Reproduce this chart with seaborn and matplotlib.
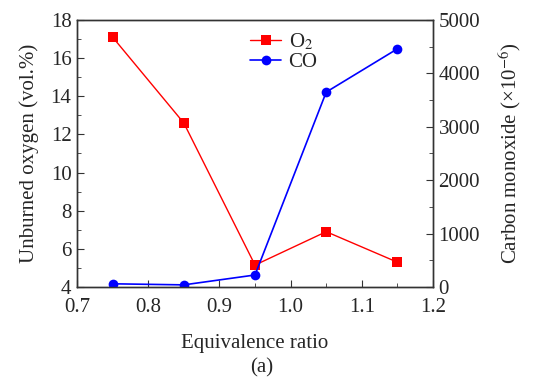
import matplotlib
matplotlib.use("Agg")
import matplotlib.pyplot as plt
import seaborn as sns
import pandas as pd
from matplotlib.ticker import MultipleLocator

ratio = [0.75, 0.85, 0.95, 1.05, 1.15]
o2 = [17.1, 12.6, 5.15, 6.9, 5.3]
co = [60, 40, 225, 3650, 4460]

df = pd.DataFrame({"ratio": ratio, "o2": o2, "co": co})

sns.set_style("ticks")
plt.rcParams['font.family'] = ['Liberation Serif', 'DejaVu Serif']
plt.rcParams['mathtext.fontset'] = 'stix'

FS = 15
fig = plt.figure(figsize=(5.4, 3.88), dpi=100)
ax = fig.add_axes([0.1426, 0.2603, 0.6593, 0.6882])
ax2 = ax.twinx()

sns.lineplot(data=df, x="ratio", y="o2", ax=ax, color="#ff0000", marker="s",
             markersize=6.5, markeredgewidth=0, linewidth=1.0, label="O$_2$", legend=False)
sns.lineplot(data=df, x="ratio", y="co", ax=ax2, color="#0000ff", marker="o",
             markersize=7, markeredgewidth=0, linewidth=1.2, label="CO", legend=False)

ax.set_xlim(0.7, 1.2)
ax.set_ylim(4, 18)
ax2.set_ylim(0, 5000)
ax.xaxis.set_major_locator(MultipleLocator(0.1))
ax.xaxis.set_minor_locator(MultipleLocator(0.05))
ax.yaxis.set_major_locator(MultipleLocator(2))
ax.yaxis.set_minor_locator(MultipleLocator(1))
ax2.yaxis.set_major_locator(MultipleLocator(1000))
ax2.yaxis.set_minor_locator(MultipleLocator(500))
ax.xaxis.set_major_formatter(matplotlib.ticker.FormatStrFormatter('%.1f'))

for a in (ax, ax2):
    a.tick_params(which='both', direction='in', labelsize=FS, color='#333333', pad=4)
    a.tick_params(which='major', length=5)
    a.tick_params(which='minor', length=3)
    for s in a.spines.values():
        s.set_color('#333333')
        s.set_linewidth(1.0)
ax.tick_params(axis='x', which='both', top=False, pad=8)

ax.set_xlabel("Equivalence ratio", fontsize=FS, labelpad=12)
ax.set_ylabel("Unburned oxygen (vol.%)", fontsize=FS, labelpad=8)
ax2.set_ylabel("Carbon monoxide (×10$^{-6}$)", fontsize=FS, labelpad=12)

h1, l1 = ax.get_legend_handles_labels()
h2, l2 = ax2.get_legend_handles_labels()
ax.legend(h1 + h2, l1 + l2, loc='upper left', bbox_to_anchor=(0.486, 0.955),
          frameon=False, fontsize=FS, handlelength=1.5, handletextpad=0.35,
          labelspacing=0.0, borderpad=0, borderaxespad=0)

fig.text(0.485, 0.052, "(a)", ha='center', va='center', fontsize=FS)

fig.savefig("out.png", dpi=100)
